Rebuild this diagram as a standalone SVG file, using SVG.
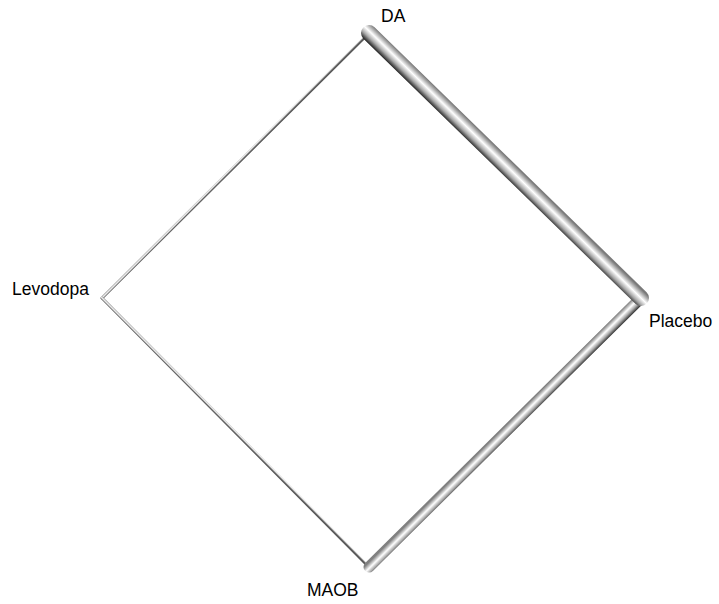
<svg xmlns="http://www.w3.org/2000/svg" width="719" height="604" viewBox="0 0 719 604">
<style>
.lbl{font-family:"Liberation Sans",Arial,sans-serif;font-size:17.5px;fill:#000}
.e{fill:none;stroke-linecap:round;stroke-linejoin:round}
</style>
<defs>
<linearGradient id="gDP" gradientUnits="userSpaceOnUse" x1="374.6" y1="27.3" x2="363.4" y2="38.7">
<stop offset="0" stop-color="#7a7a7a"/><stop offset="0.4" stop-color="#ffffff"/><stop offset="0.7" stop-color="#a8a8a8"/><stop offset="1" stop-color="#1e1e1e"/>
</linearGradient>
<linearGradient id="gPM" gradientUnits="userSpaceOnUse" x1="637.1" y1="294.1" x2="644.9" y2="301.9">
<stop offset="0" stop-color="#808080"/><stop offset="0.4" stop-color="#ffffff"/><stop offset="0.7" stop-color="#a8a8a8"/><stop offset="1" stop-color="#2a2a2a"/>
</linearGradient>
<linearGradient id="gLD" gradientUnits="userSpaceOnUse" x1="100.9" y1="296.9" x2="103.1" y2="299.1">
<stop offset="0" stop-color="#8a8a8a"/><stop offset="0.45" stop-color="#f8f8f8"/><stop offset="1" stop-color="#555555"/>
</linearGradient>
<linearGradient id="gLM" gradientUnits="userSpaceOnUse" x1="103.1" y1="296.9" x2="100.9" y2="299.1">
<stop offset="0" stop-color="#8a8a8a"/><stop offset="0.45" stop-color="#f8f8f8"/><stop offset="1" stop-color="#555555"/>
</linearGradient>
</defs>
<g id="connectors">
<line class="e" x1="102" y1="298" x2="369" y2="33" stroke="url(#gLD)" stroke-width="3"/>
<line class="e" x1="102" y1="298" x2="369" y2="567" stroke="url(#gLM)" stroke-width="3"/>
<line class="e" x1="641" y1="298" x2="369" y2="567" stroke="url(#gPM)" stroke-width="11"/>
<line class="e" x1="369" y1="33" x2="641" y2="298" stroke="url(#gDP)" stroke-width="16"/>
</g>
<g id="node-DA"><text class="lbl" x="381" y="22">DA</text></g>
<g id="node-Placebo"><text class="lbl" x="649" y="327">Placebo</text></g>
<g id="node-MAOB"><text class="lbl" x="307" y="596">MAOB</text></g>
<g id="node-Levodopa"><text class="lbl" x="12" y="295">Levodopa</text></g>
</svg>
